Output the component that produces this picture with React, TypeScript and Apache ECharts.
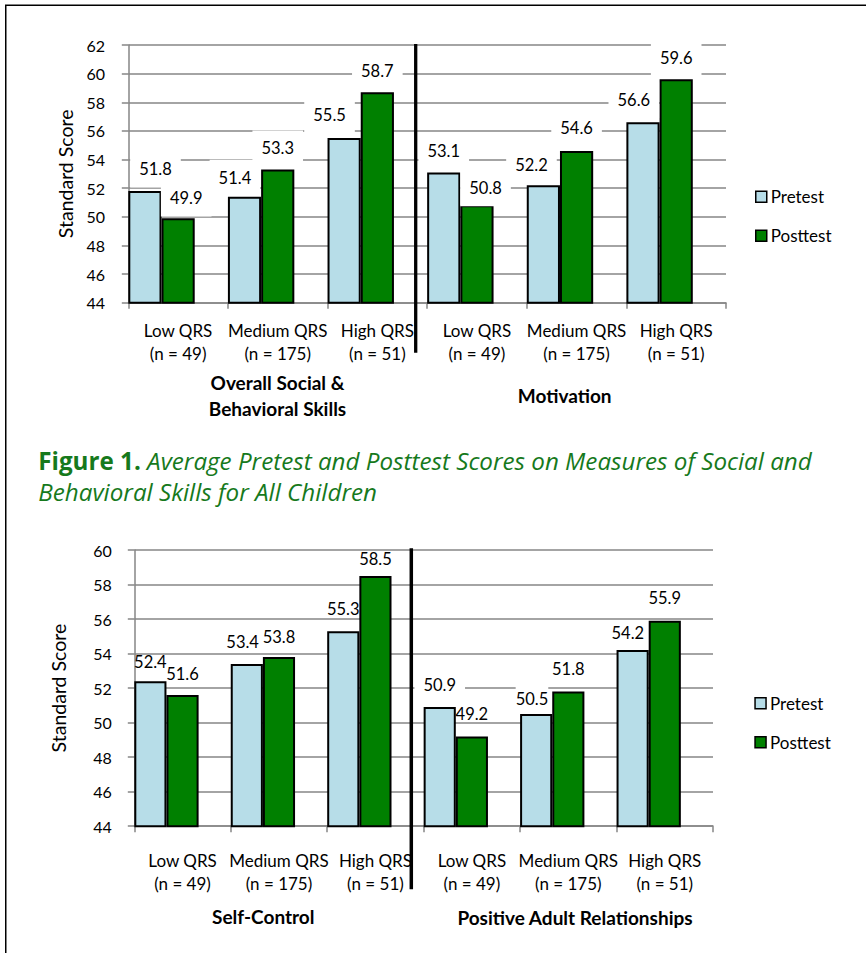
import { useEffect, useRef } from 'react';
import * as echarts from 'echarts';

const categories = [
  'Low QRS\n(n = 49)',
  'Medium QRS\n(n = 175)',
  'High QRS\n(n = 51)',
  'Low QRS\n(n = 49)',
  'Medium QRS\n(n = 175)',
  'High QRS\n(n = 51)',
];
const seriesNames = ['Pretest', 'Posttest'];

const topPretest = [51.8, 51.4, 55.5, 53.1, 52.2, 56.6];
const topPosttest = [49.9, 53.3, 58.7, 50.8, 54.6, 59.6];
const bottomPretest = [52.4, 53.4, 55.3, 50.9, 50.5, 54.2];
const bottomPosttest = [51.6, 53.8, 58.5, 49.2, 51.8, 55.9];

const topAxisMin = 44;
const topAxisMax = 62;
const bottomAxisMin = 44;
const bottomAxisMax = 60;
const axisStep = 2;

const yAxisTitle = 'Standard Score';
const topGroupTitles = ['Overall Social &\nBehavioral Skills', 'Motivation'];
const bottomGroupTitles = ['Self-Control', 'Positive Adult Relationships'];
const captionLead = 'Figure 1.';
const captionLines = [
  ' Average Pretest and Posttest Scores on Measures of Social and',
  'Behavioral Skills for All Children',
];

// label nudges (styling only: how the labels were moved to avoid overlaps)
const topPreNudge = [[10.6, -0.1], [-9.6, 2.6], [-14.6, -1.4], [0, 0], [-11.9, 1.3], [-9.2, -0.6]];
const topPostNudge = [[8.1, 1.7], [0, 0.4], [0, 0], [8.6, 4.5], [0, -1], [0, -0.3]];
const bottomPreNudge = [[0, 1.9], [-4.2, -0.8], [0, -0.5], [0, -0.7], [-4.2, 6.5], [-4.8, 4.1]];
const bottomPostNudge = [[0, 0.5], [0, 1], [0, 4.8], [0, -1], [0, -1.5], [0, -0.9]];
// label white-box paddings in the lower chart (null = no box)
const bottomPreBox: (number[] | null)[] = [null, null, null, [2, 9], [3, 0], null];
const bottomPostBox: (number[] | null)[] = [null, null, null, null, null, null];

const FONT = 'Lato, "Noto Sans", sans-serif';
const CAPTION_FONT = '"Open Sans", Lato, sans-serif';
const GRID_COLOR = '#868686';
const PRE_COLOR = '#B7DDE8';
const POST_COLOR = '#008000';
const CAPTION_COLOR = '#16791c';

function items(values: number[], nudges: number[][], boxes?: (number[] | null)[]) {
  return values.map((v, i) => {
    const label: any = { offset: nudges[i] };
    const box = boxes ? boxes[i] : null;
    if (box) {
      label.backgroundColor = '#fff';
      label.padding = box;
      label.distance = 12.5 - box[0];
    }
    return { value: v, label };
  });
}

export default function App() {
  const ref = useRef<HTMLDivElement>(null);

  useEffect(() => {
    if (!ref.current) return;
    const chart = echarts.init(ref.current, undefined, { renderer: 'svg' });

    const fmt = (p: any) => Number(p.value).toFixed(1);
    const topLabel = {
      show: true,
      position: 'top',
      distance: 3.5,
      formatter: fmt,
      fontFamily: FONT,
      fontSize: 16.5,
      lineHeight: 18,
      color: '#000',
      backgroundColor: '#fff',
      padding: [9, 9],
    };
    const bottomLabel = {
      show: true,
      position: 'top',
      distance: 12.5,
      formatter: fmt,
      fontFamily: FONT,
      fontSize: 16.5,
      lineHeight: 18,
      color: '#000',
      padding: [0, 0],
    };

    const lineStyle = { color: GRID_COLOR, width: 1.5 };

    const xAxis = (gridIndex: number, margin: number) => ({
      type: 'category',
      gridIndex,
      data: categories,
      axisLine: { show: true, lineStyle },
      axisTick: { show: true, length: 6, lineStyle },
      axisLabel: {
        interval: 0,
        margin,
        fontFamily: FONT,
        fontSize: 17,
        lineHeight: 23,
        color: '#000',
      },
      splitLine: { show: false },
    });

    const yAxis = (gridIndex: number, min: number, max: number, nameGap: number, margin: number) => ({
      type: 'value',
      gridIndex,
      min,
      max,
      interval: axisStep,
      name: yAxisTitle,
      nameLocation: 'middle',
      nameGap,
      nameTextStyle: { fontFamily: FONT, fontSize: 19.5, color: '#000' },
      axisLine: { show: true, lineStyle },
      axisTick: { show: true, length: 6.5, lineStyle },
      axisLabel: { margin, fontFamily: FONT, fontSize: 16, color: '#000' },
      splitLine: { show: true, lineStyle },
    });

    const bar = (
      name: string,
      axisIndex: number,
      data: any[],
      color: string,
      label: any
    ) => ({
      type: 'bar',
      name,
      xAxisIndex: axisIndex,
      yAxisIndex: axisIndex,
      data,
      barGap: '0%',
      barCategoryGap: '0%',
      itemStyle: { color, borderColor: '#000', borderWidth: 2 },
      label,
      emphasis: { disabled: true },
    });

    const spacer = (axisIndex: number) => ({
      type: 'bar',
      name: 'spacer' + axisIndex,
      xAxisIndex: axisIndex,
      yAxisIndex: axisIndex,
      data: categories.map(() => '-'),
      barGap: '0%',
      barCategoryGap: '0%',
      silent: true,
      itemStyle: { color: 'transparent' },
    });

    const legend = (left: number, top: number) => ({
      data: seriesNames,
      orient: 'vertical',
      left,
      top,
      padding: 0,
      itemWidth: 11,
      itemHeight: 11,
      itemGap: 21,
      icon: 'rect',
      selectedMode: false,
      itemStyle: { borderColor: '#000', borderWidth: 1.5 },
      textStyle: { fontFamily: FONT, fontSize: 17, lineHeight: 18, color: '#000', padding: [0, 0, 0, -1] },
    });

    const boldText = (text: string, x: number, y: number, lh: number) => ({
      type: 'text',
      silent: true,
      style: {
        text,
        x,
        y,
        align: 'center',
        verticalAlign: 'middle',
        fontFamily: FONT,
        fontWeight: 'bold',
        fontSize: 19,
        lineHeight: lh,
        fill: '#000',
      },
    });

    chart.setOption({
      animation: false,
      backgroundColor: '#fff',
      grid: [
        { left: 128.3, top: 45, width: 597.7, height: 257.7, containLabel: false },
        { left: 134.3, top: 550, width: 578.7, height: 276.2, containLabel: false },
      ],
      legend: [legend(755, 187.7), legend(754.3, 694.3)],
      xAxis: [xAxis(0, 16.5), xAxis(1, 23)],
      yAxis: [
        yAxis(0, topAxisMin, topAxisMax, 53, 23.3),
        yAxis(1, bottomAxisMin, bottomAxisMax, 65.5, 22.6),
      ],
      series: [
        bar(seriesNames[0], 0, items(topPretest, topPreNudge), PRE_COLOR, topLabel),
        bar(seriesNames[1], 0, items(topPosttest, topPostNudge), POST_COLOR, topLabel),
        spacer(0),
        bar(seriesNames[0], 1, items(bottomPretest, bottomPreNudge, bottomPreBox), PRE_COLOR, bottomLabel),
        bar(seriesNames[1], 1, items(bottomPosttest, bottomPostNudge, bottomPostBox), POST_COLOR, bottomLabel),
        spacer(1),
      ],
      graphic: [
        {
          type: 'rect',
          silent: true,
          shape: { x: 5.75, y: 5.25, width: 1000, height: 1000 },
          style: { fill: 'none', stroke: '#000', lineWidth: 1.5 },
        },
        {
          type: 'line',
          silent: true,
          shape: { x1: 415.7, y1: 44, x2: 415.7, y2: 352.7 },
          style: { stroke: '#000', lineWidth: 3.3 },
          z: 100,
        },
        {
          type: 'line',
          silent: true,
          shape: { x1: 411.3, y1: 548.3, x2: 411.3, y2: 889.3 },
          style: { stroke: '#000', lineWidth: 3.5 },
          z: 100,
        },
        boldText(topGroupTitles[0], 277.5, 395.5, 25.6),
        boldText(topGroupTitles[1], 564.7, 395, 25.6),
        boldText(bottomGroupTitles[0], 263.3, 916, 25.6),
        boldText(bottomGroupTitles[1], 575, 917.3, 25.6),
        {
          type: 'text',
          silent: true,
          style: {
            text:
              '{b|' + captionLead + '}{i|' + captionLines[0] + '}\n{i|' + captionLines[1] + '}',
            x: 38.3,
            y: 444.2,
            align: 'left',
            verticalAlign: 'top',
            rich: {
              b: {
                fontFamily: CAPTION_FONT,
                fontWeight: 'bold',
                fontSize: 24.2,
                lineHeight: 31.7,
                fill: CAPTION_COLOR,
              },
              i: {
                fontFamily: CAPTION_FONT,
                fontStyle: 'italic',
                fontSize: 24.2,
                lineHeight: 31.7,
                fill: CAPTION_COLOR,
              },
            },
          },
        },
      ],
    } as any);

    return () => {
      chart.dispose();
    };
  }, []);

  return (
    <div
      ref={ref}
      style={{ position: 'absolute', left: 0, top: 0, width: 866, height: 953 }}
    />
  );
}
